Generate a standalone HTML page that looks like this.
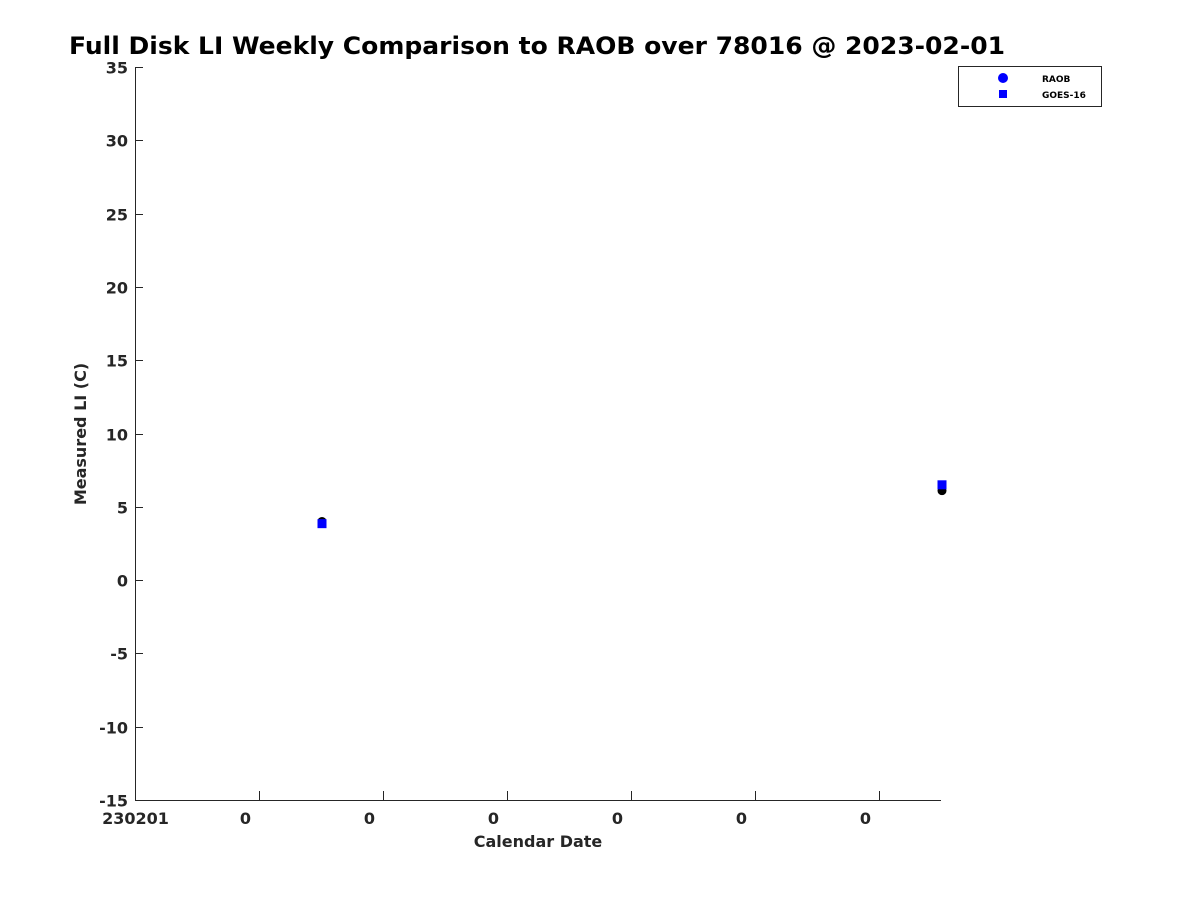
<!DOCTYPE html>
<html><head><meta charset="utf-8"><style>
body{margin:0;background:#fff;}
text{font-family:"DejaVu Sans","Liberation Sans",sans-serif;font-weight:bold;}
</style></head><body>
<svg id="chart" width="1200" height="900" xmlns="http://www.w3.org/2000/svg">
<text x="69" y="54" font-size="24" fill="#000" textLength="936" lengthAdjust="spacingAndGlyphs">Full Disk LI Weekly Comparison to RAOB over 78016 @ 2023-02-01</text>
<g id="axes"></g>
<g id="marks"></g>
<text x="538" y="847" font-size="16" fill="#262626" text-anchor="middle">Calendar Date</text>
<text transform="translate(86,434) rotate(-90)" font-size="16" fill="#262626" text-anchor="middle">Measured LI (C)</text>
<g>
<rect x="958.5" y="66.5" width="143" height="40" fill="#fff" stroke="#262626" stroke-width="1"/>
<circle cx="1003" cy="78" r="5" fill="#0000ff"/>
<text x="1042" y="82" font-size="9" fill="#000">RAOB</text>
<rect x="999" y="90" width="8" height="8" fill="#0000ff"/>
<text x="1042" y="98" font-size="9" fill="#000">GOES-16</text>
</g>
</svg>
<script>
const yTicks=[35,30,25,20,15,10,5,0,-5,-10,-15];
const xTicks=[0,1,2,3,4,5,6];
const xTickLabels=["230201","0","0","0","0","0","0"];
const dayPositions=[1.5,6.5];
const raobValues=[4.0,6.1];
const goesValues=[3.85,6.5];
const X0=135,X1=941,Y0=67,Y1=800,xMax=6.5,yMin=-15,yMax=35;
const NS="http://www.w3.org/2000/svg";
function xs(v){return X0+(v/xMax)*(X1-X0);}
function ys(v){return Y1-(v-yMin)/(yMax-yMin)*(Y1-Y0);}
function mk(tag,attrs,parent){const e=document.createElementNS(NS,tag);for(const k in attrs)e.setAttribute(k,attrs[k]);parent.appendChild(e);return e;}
const ax=document.getElementById('axes'),mg=document.getElementById('marks');
let l=mk('line',{x1:X0+.5,y1:Y0,x2:X0+.5,y2:Y1,stroke:'#262626'},ax);


l=mk('line',{x1:X0,y1:Y1+.5,x2:X1,y2:Y1+.5,stroke:'#262626'},ax);


yTicks.forEach(v=>{const y=Math.round(ys(v))+.5;
 const t=mk('line',{x1:X0,y1:y,x2:X0+8,y2:y,stroke:'#262626'},ax);
 
 
 const tx=mk('text',{x:128,y:y+6,'font-size':16,fill:'#262626','text-anchor':'end'},ax);tx.textContent=v;
 
 
});
xTicks.forEach((v,i)=>{const x=Math.round(xs(v))+.5;
 const t=mk('line',{x1:x,y1:Y1,x2:x,y2:Y1-9,stroke:'#262626'},ax);
 
 
 const tx=mk('text',{x:i==0?x:x-14,y:824,'font-size':16,fill:'#262626','text-anchor':'middle'},ax);tx.textContent=xTickLabels[i];
 
 
});
dayPositions.forEach((d,i)=>{const x=xs(d)+1;
 const c=mk('circle',{cx:x,cy:ys(raobValues[i]),r:4.5,fill:'#000'},mg);
 
 
 const s=mk('rect',{x:x-4.5,y:ys(goesValues[i])-4.5,width:9,height:9,fill:'#0000ff'},mg);
 
 
});
</script>
</body></html>
